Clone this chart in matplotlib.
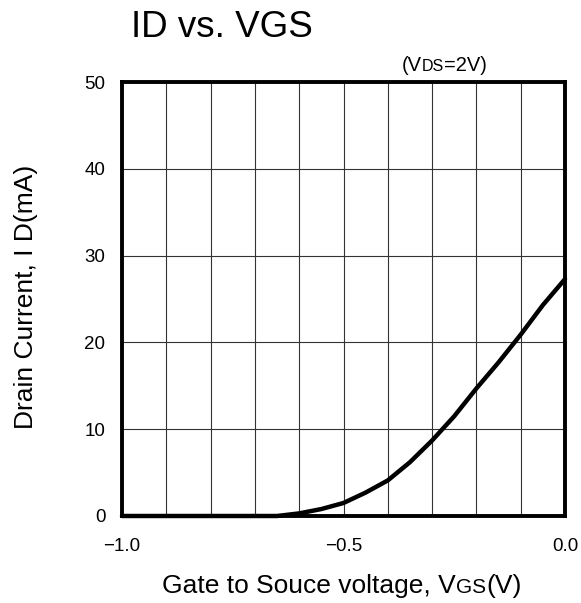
import matplotlib
matplotlib.use('Agg')
import matplotlib.pyplot as plt

# curve
vgs = [-1.0, -0.70, -0.65, -0.60, -0.55, -0.50, -0.45, -0.40, -0.35,
       -0.30, -0.25, -0.20, -0.15, -0.10, -0.05, 0.0]
id_ma = [0.0, 0.0, 0.0, 0.3, 0.8, 1.5, 2.7, 4.1, 6.2,
         8.7, 11.5, 14.7, 17.7, 20.9, 24.3, 27.3]

x_ticks = [-1.0, -0.5, 0.0]
x_tick_labels = ['\u22121.0', '\u22120.5', '0.0']
y_ticks = [0, 10, 20, 30, 40, 50]
x_grid = [-0.9, -0.8, -0.7, -0.6, -0.5, -0.4, -0.3, -0.2, -0.1]
y_grid = [10, 20, 30, 40]

plt.rcParams['font.family'] = ['Liberation Sans', 'DejaVu Sans']


def draw_segments(fig, x, y, segments, **kw):
    # draw text pieces left to right, each with its own size
    renderer = fig.canvas.get_renderer()
    for s, size in segments:
        t = fig.text(x, y, s, fontsize=size, va='baseline', ha='left', **kw)
        bb = t.get_window_extent(renderer=renderer)
        x += bb.width / fig.bbox.width


fig = plt.figure(figsize=(5.81, 6.03), dpi=100)
ax = fig.add_axes([0.21, 0.1443, 0.7625, 0.7197])

for gx in x_grid:
    ax.axvline(gx, color='#333333', lw=0.8, zorder=1)
for gy in y_grid:
    ax.axhline(gy, color='#333333', lw=0.8, zorder=1)

ax.plot(vgs, id_ma, color='black', lw=3.2, solid_capstyle='round',
        solid_joinstyle='round', zorder=3, clip_on=False)

ax.set_xlim(-1.0, 0.0)
ax.set_ylim(0, 50)
ax.set_xticks(x_ticks)
ax.set_xticklabels(x_tick_labels)
ax.set_yticks(y_ticks)
ax.tick_params(length=0, labelsize=13.5)
ax.tick_params(axis='y', pad=12)
ax.tick_params(axis='x', pad=16)
for sp in ax.spines.values():
    sp.set_linewidth(2.8)
    sp.set_zorder(4)

fig.canvas.draw()
draw_segments(fig, 0.226, 0.9386, [('ID vs. VGS', 26.5)])
draw_segments(fig, 0.692, 0.882, [('(V', 14.5), ('DS', 11.5), ('=2V)', 14.5)])
draw_segments(fig, 0.279, 0.016, [('Gate to Souce voltage, V', 19),
                                  ('GS', 15), ('(V)', 19)])
fig.text(0.044, 0.508, 'Drain Current, I D(mA)', fontsize=19,
         rotation=90, ha='center', va='center')

fig.savefig('out.png', dpi=100)
